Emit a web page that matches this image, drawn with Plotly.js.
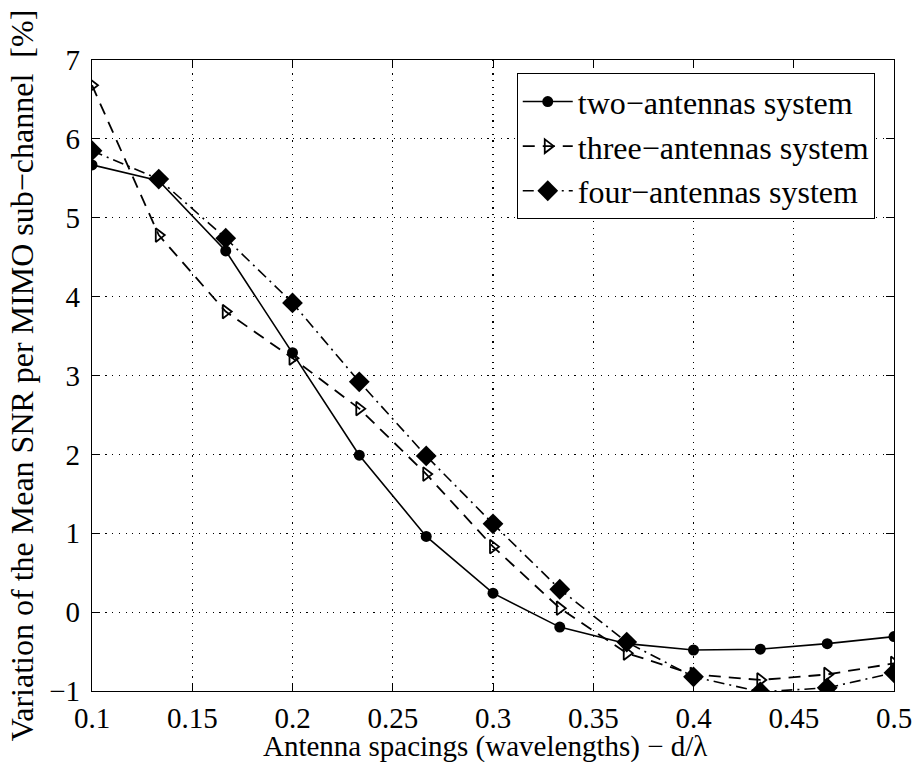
<!DOCTYPE html>
<html>
<head>
<meta charset="utf-8">
<script src="https://cdn.plot.ly/plotly-3.0.1.min.js"></script>
<style>
html,body{margin:0;padding:0;background:#fff;}
#chart{width:915px;height:762px;}
#chart svg text{font-family:'Liberation Serif','Times New Roman',Times,serif !important;}
</style>
</head>
<body>
<div id="chart"></div>
<script>
const spacing = [0.1, 0.1333, 0.1667, 0.2, 0.2333, 0.2667, 0.3, 0.3333, 0.3667, 0.4, 0.4333, 0.4667, 0.5];
const twoAntennas = [5.67, 5.47, 4.58, 3.29, 1.99, 0.96, 0.24, -0.19, -0.40, -0.48, -0.47, -0.40, -0.31];
const threeAntennas = [6.68, 4.78, 3.81, 3.22, 2.58, 1.75, 0.83, 0.05, -0.52, -0.79, -0.86, -0.79, -0.65];
const fourAntennas = [5.85, 5.49, 4.74, 3.92, 2.92, 1.98, 1.12, 0.29, -0.38, -0.82, -1.01, -0.96, -0.77];
const seriesNames = ["two\u2212antennas system", "three\u2212antennas system", "four\u2212antennas system"];
const xTicks = [0.1, 0.15, 0.2, 0.25, 0.3, 0.35, 0.4, 0.45, 0.5];
const xTickText = ["0.1", "0.15", "0.2", "0.25", "0.3", "0.35", "0.4", "0.45", "0.5"];
const yTicks = [-1, 0, 1, 2, 3, 4, 5, 6, 7];
const yTickText = ["\u22121", "0", "1", "2", "3", "4", "5", "6", "7"];
const xTitle = "Antenna spacings (wavelengths) \u2212 d/\u03bb";
const yTitle = "Variation of the Mean SNR per MIMO sub\u2212channel  [%]";

const FONT = "serif";

const traces = [
  {x: spacing, y: twoAntennas, name: seriesNames[0], mode: "lines+markers",
   line: {color: "black", width: 1.6, dash: "solid"},
   marker: {symbol: "circle", size: 11, color: "black"}},
  {x: spacing, y: threeAntennas, name: seriesNames[1], mode: "lines+markers",
   line: {color: "black", width: 1.8, dash: "12px,8px"},
   marker: {symbol: "triangle-right-open", size: 12, color: "black", line: {width: 1.8}}},
  {x: spacing, y: fourAntennas, name: seriesNames[2], mode: "lines+markers",
   line: {color: "black", width: 1.6, dash: "11px,5px,2px,5px"},
   marker: {symbol: "diamond", size: 16, color: "black"}}
];

function axisBase() {
  return {
    showline: true, linecolor: "black", linewidth: 1.2, mirror: "ticks",
    ticks: "inside", ticklen: 8, tickcolor: "black",
    showgrid: true, gridcolor: "black", griddash: "1.2px,5.5px", gridwidth: 1.2,
    zeroline: false,
    tickfont: {family: FONT, size: 29, color: "black"}
  };
}

const layout = {
  width: 915, height: 762,
  margin: {l: 92, r: 21, t: 60, b: 71},
  paper_bgcolor: "white", plot_bgcolor: "white",
  showlegend: true,
  xaxis: Object.assign(axisBase(), {
    range: [0.1, 0.5], tickvals: xTicks, ticktext: xTickText, ticklabelstandoff: 1
  }),
  yaxis: Object.assign(axisBase(), {
    range: [-1, 7], tickvals: yTicks, ticktext: yTickText, ticklabelstandoff: 5,
    title: {text: yTitle, font: {family: FONT, size: 32, color: "black"}, standoff: 6}
  }),
  annotations: [{
    text: xTitle, xref: "paper", yref: "paper", x: 0.49, y: -0.118,
    xanchor: "center", yanchor: "bottom", showarrow: false,
    font: {family: FONT, size: 29, color: "black"}
  }],
  legend: {
    x: 0.976, y: 0.979, xanchor: "right", yanchor: "top",
    bgcolor: "white", bordercolor: "black", borderwidth: 1,
    font: {family: FONT, size: 32, color: "black"},
    tracegroupgap: 0, itemwidth: 50
  }
};

Plotly.newPlot("chart", traces, layout, {displayModeBar: false, staticPlot: true});
</script>
</body>
</html>
